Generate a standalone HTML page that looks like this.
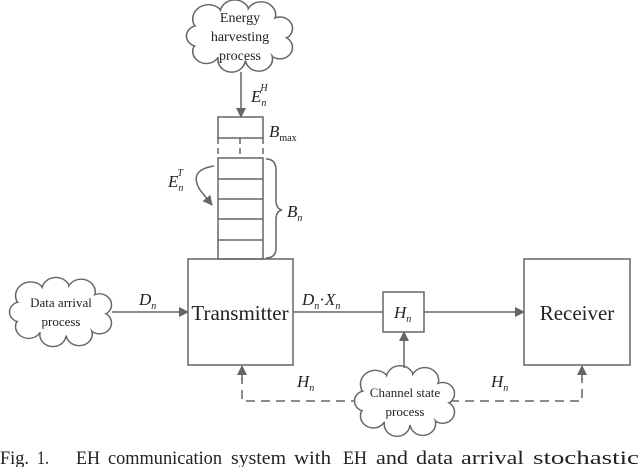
<!DOCTYPE html>
<html><head><style>
body{margin:0;background:#fff;}
svg{display:block;font-family:"Liberation Serif",serif;}
</style></head><body>
<svg width="640" height="467" viewBox="0 0 640 467" xmlns="http://www.w3.org/2000/svg">
<defs>
<marker id="a" markerWidth="10" markerHeight="10" refX="9" refY="5" orient="auto" markerUnits="userSpaceOnUse"><path d="M0,0 L10,5 L0,10 Z" fill="#666"/></marker>
<g id="co">
<circle cx="-30" cy="-18" r="15"/><circle cx="-5" cy="-24" r="14"/><circle cx="20" cy="-22" r="14"/><circle cx="38" cy="-8" r="12"/><circle cx="38" cy="12" r="12"/><circle cx="18" cy="24" r="13"/><circle cx="-8" cy="25" r="13"/><circle cx="-32" cy="16" r="13"/><circle cx="-40" cy="0" r="11"/>
</g>
<g id="ci">
<circle cx="-30" cy="-18" r="13.8"/><circle cx="-5" cy="-24" r="12.8"/><circle cx="20" cy="-22" r="12.8"/><circle cx="38" cy="-8" r="10.8"/><circle cx="38" cy="12" r="10.8"/><circle cx="18" cy="24" r="11.8"/><circle cx="-8" cy="25" r="11.8"/><circle cx="-32" cy="16" r="11.8"/><circle cx="-40" cy="0" r="9.8"/><ellipse cx="0" cy="0" rx="40" ry="26"/>
</g>
</defs>
<g stroke="#666" stroke-width="1.5" fill="none">
<g stroke-dasharray="9,6">
<polyline points="405,401 242,401 242,378"/>
<polyline points="405,401 582,401 582,378"/>
</g>
<line x1="242" y1="380" x2="242" y2="366" marker-end="url(#a)"/>
<line x1="582" y1="380" x2="582" y2="366" marker-end="url(#a)"/>

<g transform="translate(240,36) scale(1.05,0.95)"><use href="#co" fill="#fff" stroke="#666" stroke-width="1.5"/><use href="#ci" fill="#fff" stroke="none"/></g>
<g transform="translate(61,312) scale(1.01,0.91)"><use href="#co" fill="#fff" stroke="#666" stroke-width="1.5"/><use href="#ci" fill="#fff" stroke="none"/></g>
<g transform="translate(405,401) scale(0.99,0.93)"><use href="#co" fill="#fff" stroke="#666" stroke-width="1.5"/><use href="#ci" fill="#fff" stroke="none"/></g>

<line x1="241" y1="72" x2="241" y2="117" marker-end="url(#a)"/>
<line x1="112" y1="312" x2="188" y2="312" marker-end="url(#a)"/>
<line x1="293" y1="312" x2="383" y2="312"/>
<line x1="424" y1="312" x2="524" y2="312" marker-end="url(#a)"/>
<line x1="404" y1="368" x2="404" y2="332" marker-end="url(#a)"/>
<rect x="188" y="259" width="105" height="106"/>
<rect x="524" y="259" width="106" height="106"/>
<rect x="383" y="292" width="41" height="40"/>
<rect x="218" y="117" width="45" height="21"/>
<line x1="218" y1="138" x2="218" y2="158" stroke-dasharray="6,4"/>
<line x1="263" y1="138" x2="263" y2="158" stroke-dasharray="6,4"/>
<line x1="240" y1="138" x2="240" y2="158" stroke-dasharray="6,4"/>
<rect x="218" y="158" width="45" height="101"/>
<line x1="218" y1="179" x2="263" y2="179"/>
<line x1="218" y1="199" x2="263" y2="199"/>
<line x1="218" y1="219" x2="263" y2="219"/>
<line x1="218" y1="240" x2="263" y2="240"/>
<path d="M266,159 Q276,159 276,170 L276,200 Q276,209 282,210 Q276,211 276,220 L276,248 Q276,258 266,258"/>
<path d="M214,166 Q188,170 200,190 L212,205" marker-end="url(#a)"/>
</g>
<g fill="#222" text-anchor="middle">
<text x="240" y="22" font-size="14">Energy</text>
<text x="240" y="41" font-size="14">harvesting</text>
<text x="240" y="60" font-size="14">process</text>
<text x="61" y="307" font-size="13">Data arrival</text>
<text x="61" y="326" font-size="13">process</text>
<text x="405" y="397" font-size="13">Channel state</text>
<text x="405" y="416" font-size="13">process</text>
<text x="240" y="320" font-size="21">Transmitter</text>
<text x="577" y="320" font-size="21">Receiver</text>
</g>
<g fill="#222" font-size="17" font-style="italic">
<text x="251" y="102">E<tspan font-size="10" dy="4">n</tspan><tspan font-size="10" dx="-6" dy="-15">H</tspan></text>
<text x="269" y="137">B<tspan font-size="10" font-style="normal" dy="4">max</tspan></text>
<text x="168" y="187">E<tspan font-size="10" dy="4">n</tspan><tspan font-size="10" dx="-6" dy="-15">T</tspan></text>
<text x="287" y="217">B<tspan font-size="10" dy="4">n</tspan></text>
<text x="139" y="305">D<tspan font-size="10" dy="4">n</tspan></text>
<text x="302" y="305">D<tspan font-size="10" dy="4">n</tspan><tspan dy="-4" font-style="normal">·</tspan>X<tspan font-size="10" dy="4">n</tspan></text>
<text x="394" y="318">H<tspan font-size="10" dy="4">n</tspan></text>
<text x="297" y="387">H<tspan font-size="10" dy="4">n</tspan></text>
<text x="491" y="387">H<tspan font-size="10" dy="4">n</tspan></text>
</g>
<g fill="#222" font-size="19" lengthAdjust="spacingAndGlyphs">
<text x="0" y="464" textLength="29" lengthAdjust="spacingAndGlyphs">Fig.</text>
<text x="37" y="464" textLength="12" lengthAdjust="spacingAndGlyphs">1.</text>
<text x="76" y="464" textLength="24" lengthAdjust="spacingAndGlyphs">EH</text>
<text x="108" y="464" textLength="114" lengthAdjust="spacingAndGlyphs">communication</text>
<text x="231" y="464" textLength="55" lengthAdjust="spacingAndGlyphs">system</text>
<text x="294" y="464" textLength="37" lengthAdjust="spacingAndGlyphs">with</text>
<text x="343" y="464" textLength="24" lengthAdjust="spacingAndGlyphs">EH</text>
<text x="376" y="464" textLength="32" lengthAdjust="spacingAndGlyphs">and</text>
<text x="416" y="464" textLength="37" lengthAdjust="spacingAndGlyphs">data</text>
<text x="461" y="464" textLength="63" lengthAdjust="spacingAndGlyphs">arrival</text>
<text x="533" y="464" textLength="106" lengthAdjust="spacingAndGlyphs">stochastic</text>
</g>
</svg>
</body></html>
